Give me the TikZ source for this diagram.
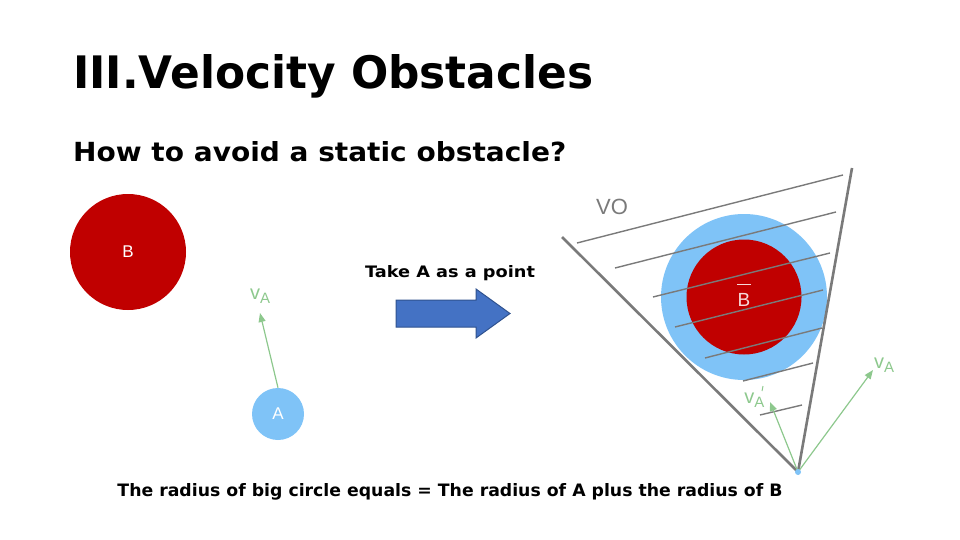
\documentclass[tikz,border=0pt]{standalone}
\usepackage{fontspec}
\setmainfont{DejaVu Sans}
\newfontfamily\labfont{Liberation Sans}
\usetikzlibrary{arrows.meta}
\definecolor{red1}{HTML}{C00000}
\definecolor{blue1}{HTML}{7FC3F7}
\definecolor{grn}{HTML}{8DC88D}
\definecolor{gry}{HTML}{7A7A7A}
\definecolor{arr}{HTML}{4472C4}
\definecolor{arrb}{HTML}{2F528F}
\tikzset{vel/.style={grn,line width=1.2pt,-{Triangle[length=9pt,width=7pt]}},
lab/.style={text=grn,font=\labfont\fontsize{20}{20}\selectfont},
hatch/.style={gry,line width=1.4pt},
cone/.style={gry,line width=2.6pt}}
\begin{document}
\begin{tikzpicture}[x=1pt,y=-1pt]
\useasboundingbox (0,0) rectangle (960,540);
\node[anchor=south west,inner sep=0] (title) at (73,98) {\resizebox{520pt}{34pt}{\bfseries III.Velocity Obstacles}};
\node[anchor=south west,inner sep=0] (sub) at (73,162) {\resizebox{493pt}{20pt}{\bfseries How to avoid a static obstacle?}};
% left
\node[circle,fill=red1,minimum size=116pt,inner sep=0,text=white,font=\labfont\fontsize{17}{17}\selectfont] (B) at (128,252) {B};
\node[circle,fill=blue1,minimum size=52pt,inner sep=0,text=white,font=\labfont\fontsize{17}{17}\selectfont] (A) at (278,414) {A};
\coordinate (vt) at (260,313);
\draw[vel] (A.north) -- (vt);
\node[lab] (lv) at (260,296) {v\raisebox{-0.35ex}{\fontsize{15}{15}\selectfont A}};
% big arrow
\draw[fill=arr,draw=arrb,line width=1pt] (396,300) -- (476,300) -- (476,289) -- (510,313.5) -- (476,338) -- (476,327) -- (396,327) -- cycle;
\node[anchor=south,inner sep=0] (take) at (450,281) {\resizebox{170pt}{12pt}{\bfseries Take A as a point}};
% right
\coordinate (apex) at (798,472);
\coordinate (l1) at (562,237);
\coordinate (r1) at (852,168);
\node[circle,fill=blue1,minimum size=166pt,inner sep=0] (BB) at (744,297) {};
\node[circle,fill=red1,minimum size=115pt,inner sep=0] (Bred) at (744,297) {};
\node[text=white!85!red1,font=\labfont\fontsize{19}{19}\selectfont] (bl) at (744,300) {B};
\draw[white!85!red1,line width=1pt] (737,284) -- (751,284);
\draw[hatch] (577,243)--(843,175);
\draw[hatch] (615,268)--(836,212);
\draw[hatch] (653,297)--(830,253);
\draw[hatch] (675,327)--(823,290);
\draw[hatch] (705,358)--(822,328);
\draw[hatch] (743,381)--(813,363);
\draw[hatch] (760,415)--(802,405);
\draw[cone] (l1) -- (apex) -- (r1);
\node[text=gry,font=\labfont\fontsize{22}{22}\selectfont] (vo) at (612,207) {VO};
\coordinate (vap) at (770,402);
\coordinate (va) at (873,370);
\draw[vel] (apex) -- (vap);
\draw[vel] (apex) -- (va);
\fill[blue1] (apex) circle (3);
\node[lab] (lva) at (884,365) {v\raisebox{-0.35ex}{\fontsize{15}{15}\selectfont A}};
\node[lab,anchor=east] (lvap) at (768,400) {v\raisebox{-0.35ex}{\fontsize{15}{15}\selectfont A}};
\draw[grn,line width=1pt] (763,386) -- (762,391) (lvap.north east) ++(0,0);
\node[anchor=south,inner sep=0] (bot) at (450,500) {\resizebox{665pt}{13pt}{\bfseries The radius of big circle equals = The radius of A plus the radius of B}};
\end{tikzpicture}
\end{document}
